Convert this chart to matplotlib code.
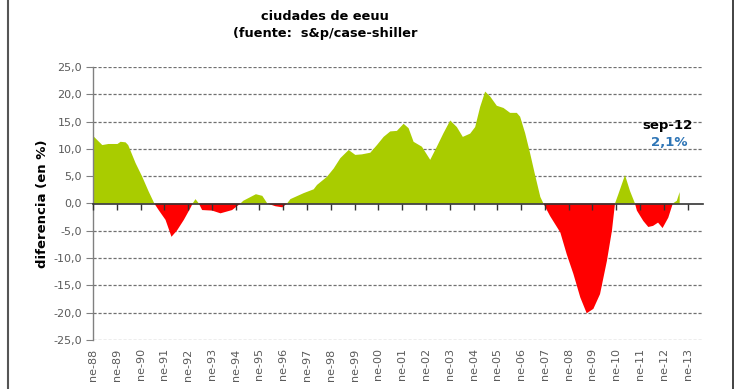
import numpy as np
import matplotlib.pyplot as plt
from matplotlib.lines import Line2D

# time in decimal years, value = difference in %
years = [1988.00, 1988.39, 1988.65, 1989.03, 1989.16, 1989.37, 1989.48, 1989.79,
         1990.07, 1990.34, 1990.58, 1990.76, 1991.05, 1991.30, 1991.54, 1991.82,
         1992.10, 1992.19, 1992.31, 1992.45, 1992.59, 1993.01, 1993.36, 1993.85,
         1994.20, 1994.32, 1994.85, 1995.12, 1995.33, 1995.67, 1995.96, 1996.16,
         1996.30, 1996.86, 1997.28, 1997.42, 1997.84, 1998.12, 1998.40, 1998.75,
         1999.03, 1999.31, 1999.66, 1999.94, 2000.22, 2000.50, 2000.78, 2001.06,
         2001.27, 2001.48, 2001.83, 2002.18, 2002.46, 2002.74, 2003.02, 2003.30,
         2003.55, 2003.86, 2004.07, 2004.28, 2004.49, 2004.70, 2004.98, 2005.26,
         2005.54, 2005.82, 2005.96, 2006.17, 2006.38, 2006.59, 2006.81, 2006.94,
         2007.22, 2007.65, 2007.92, 2008.20, 2008.49, 2008.76, 2009.04, 2009.32,
         2009.61, 2009.82, 2009.95, 2010.09, 2010.37, 2010.58, 2010.79, 2010.87,
         2011.14, 2011.35, 2011.55, 2011.76, 2011.95, 2012.19, 2012.38, 2012.55,
         2012.67]
values = [12.4, 10.7, 10.9, 10.9, 11.3, 11.2, 10.7, 7.4,
          4.9, 2.2, 0.0, -1.2, -3.0, -6.1, -4.9, -3.0,
          -0.8, 0.0, 0.8, 0.0, -1.2, -1.3, -1.8, -1.2,
          0.0, 0.5, 1.7, 1.4, 0.0, -0.5, -0.7, 0.0,
          0.8, 1.9, 2.6, 3.4, 4.9, 6.4, 8.3, 9.8,
          8.9, 9.0, 9.3, 10.7, 12.2, 13.2, 13.3, 14.6,
          13.8, 11.3, 10.4, 8.0, 10.4, 12.9, 15.2, 14.0,
          12.2, 12.8, 14.0, 17.7, 20.5, 19.6, 17.9, 17.5,
          16.6, 16.6, 15.9, 12.9, 9.2, 5.2, 1.2, 0.0,
          -2.3, -5.3, -9.3, -12.9, -17.2, -20.1, -19.3, -16.6,
          -10.5, -5.0, 0.0, 1.7, 5.2, 2.3, 0.0, -1.3,
          -3.2, -4.3, -4.1, -3.5, -4.5, -2.6, 0.0, 0.5,
          2.1]

tick_years = list(range(1988, 2014))
tick_labels = ['ne-%02d' % (y % 100) for y in tick_years]
y_ticks = [25, 20, 15, 10, 5, 0, -5, -10, -15, -20, -25]

green = '#a9cc00'
red = '#ff0000'
gray_txt = '#5a5a5a'

x = np.array(years)
v = np.array(values)

fig = plt.figure(figsize=(7.4, 3.89), dpi=100)
ax = fig.add_axes([93/740, 1 - 340/389, (703 - 93)/740, (340 - 67)/389])

ax.fill_between(x, v, 0, where=v >= 0, interpolate=True, color=green, lw=0)
ax.fill_between(x, v, 0, where=v <= 0, interpolate=True, color=red, lw=0)

ax.set_xlim(1988, 2013.65)
ax.set_ylim(-25, 25)

# dashed gridlines
for yv in y_ticks:
    if yv != 0:
        ax.axhline(yv, color='#707070', lw=0.9, ls=(0, (2.5, 1.5)), zorder=0)

ax.set_yticks(y_ticks)
ax.set_yticklabels([('%.1f' % t).replace('.', ',') for t in y_ticks],
                   fontsize=8, color=gray_txt)
ax.tick_params(axis='y', length=5, color='#808080', pad=3)

ax.set_xticks(tick_years)
ax.set_xticklabels(tick_labels, rotation=90, fontsize=8, color=gray_txt, va='top')
ax.tick_params(axis='x', length=0, pad=6)

for s in ['top', 'right', 'bottom']:
    ax.spines[s].set_visible(False)
ax.spines['left'].set_color('#808080')
ax.spines['left'].set_linewidth(1.0)

# zero line with year ticks pointing down
sec = ax.secondary_xaxis(0.4999)
sec.set_xticks(tick_years)
sec.set_xticklabels([])
sec.tick_params(axis='x', direction='out', length=4, width=1, color='#333333')
sec.spines['bottom'].set_color('#333333')
sec.spines['bottom'].set_linewidth(1.2)
sec.set_zorder(5)

ax.set_ylabel('diferencia (en %)', fontsize=9.5, fontweight='bold', labelpad=3)

fig.text(325/740, 1 - 17/389, 'ciudades de eeuu', ha='center', va='center',
         fontsize=9.3, fontweight='bold')
fig.text(325/740, 1 - 34/389, '(fuente:  s&p/case-shiller', ha='center', va='center',
         fontsize=9.3, fontweight='bold')

ax.text(years[-1] - 0.5, 14.3, 'sep-12', ha='center', va='center',
        fontsize=9.5, fontweight='bold', color='black')
ax.text(years[-1] - 0.45, 11.2, '2,1%', ha='center', va='center',
        fontsize=9.5, fontweight='bold', color='#2e75b6')

# outer frame lines
fig.add_artist(Line2D([8/740, 8/740], [0, 1], color='#555555', lw=1.5))
fig.add_artist(Line2D([733/740, 733/740], [0, 1], color='#222222', lw=1.2))

fig.savefig('out.png', dpi=100)
